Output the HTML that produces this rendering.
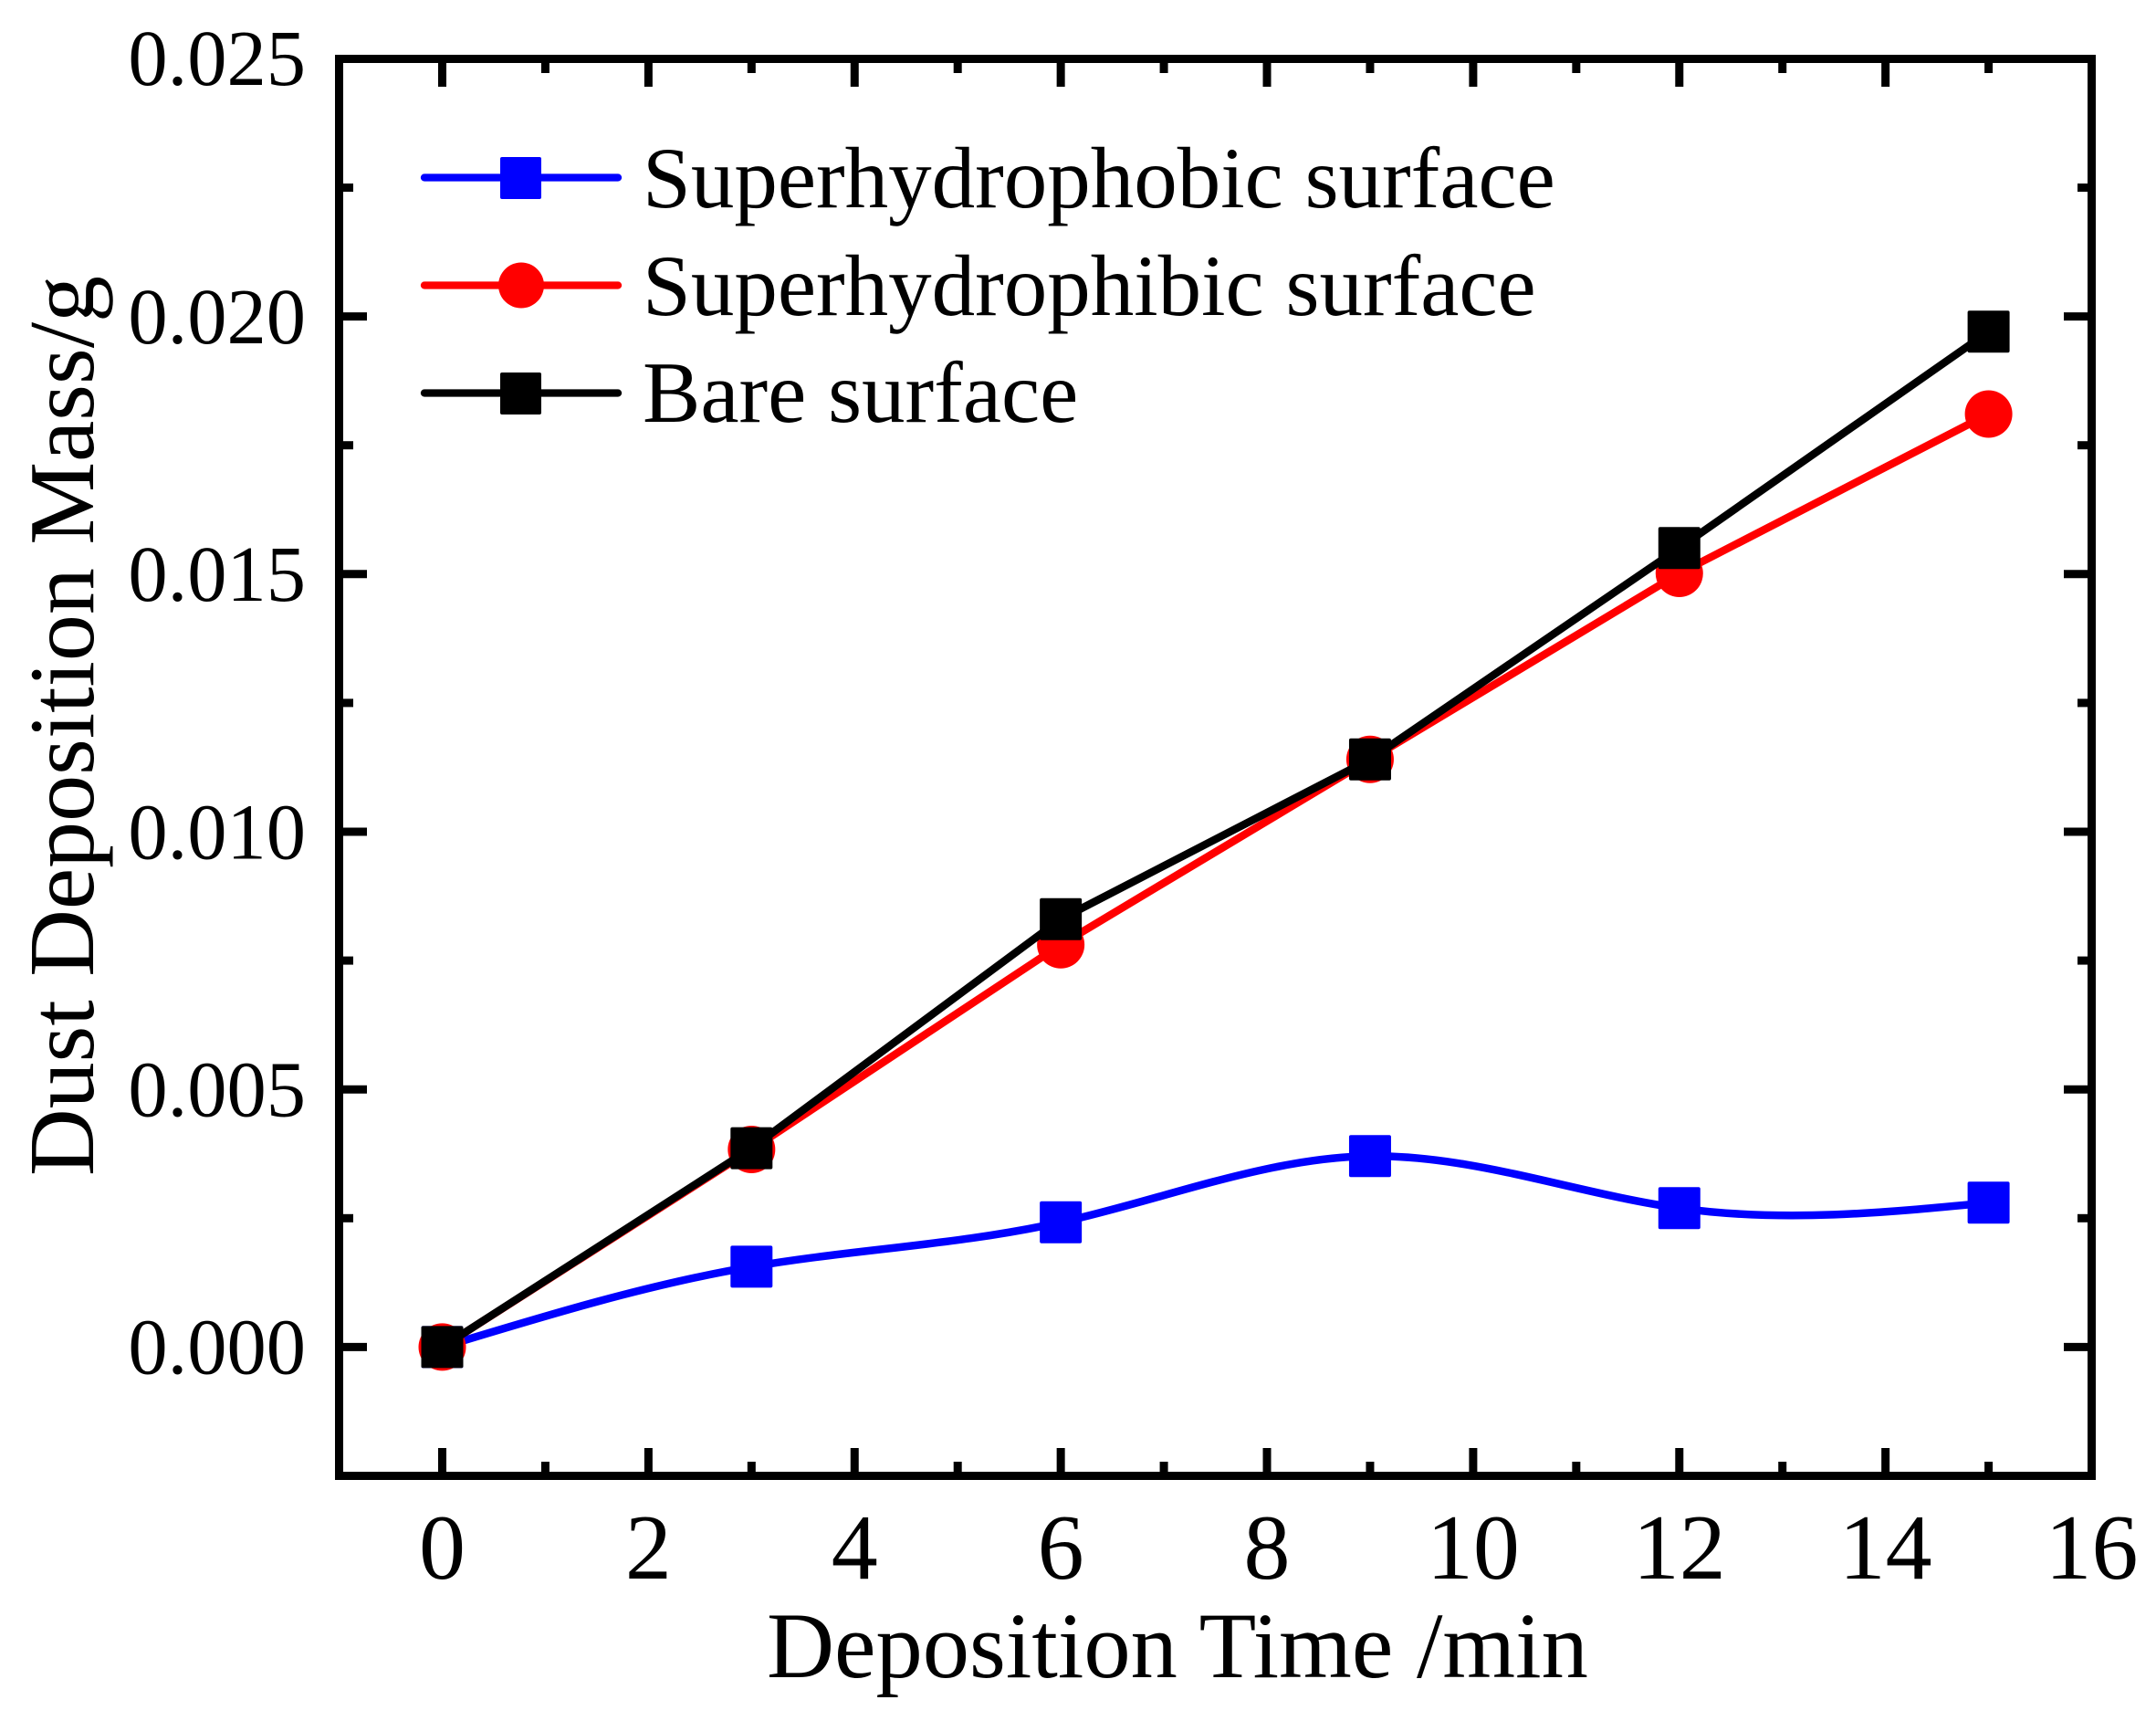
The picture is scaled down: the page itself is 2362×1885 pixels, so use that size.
<!DOCTYPE html>
<html>
<head>
<meta charset="utf-8">
<style>
  html, body { margin: 0; padding: 0; background: #ffffff; }
  svg { display: block; }
  text { font-family: "Liberation Serif", "Times New Roman", serif; fill: #000; }
</style>
</head>
<body>
<svg width="2362" height="1885" viewBox="0 0 2362 1885" xmlns="http://www.w3.org/2000/svg">
  <rect x="0" y="0" width="2362" height="1885" fill="#ffffff"/>
  <g stroke="#000" stroke-width="9" stroke-linecap="butt">
    <line x1="484.5" y1="1616" x2="484.5" y2="1586"/>
    <line x1="710.38" y1="1616" x2="710.38" y2="1586"/>
    <line x1="936.26" y1="1616" x2="936.26" y2="1586"/>
    <line x1="1162.14" y1="1616" x2="1162.14" y2="1586"/>
    <line x1="1388.02" y1="1616" x2="1388.02" y2="1586"/>
    <line x1="1613.9" y1="1616" x2="1613.9" y2="1586"/>
    <line x1="1839.78" y1="1616" x2="1839.78" y2="1586"/>
    <line x1="2065.66" y1="1616" x2="2065.66" y2="1586"/>
    <line x1="597.44" y1="1616" x2="597.44" y2="1601"/>
    <line x1="823.32" y1="1616" x2="823.32" y2="1601"/>
    <line x1="1049.2" y1="1616" x2="1049.2" y2="1601"/>
    <line x1="1275.08" y1="1616" x2="1275.08" y2="1601"/>
    <line x1="1500.96" y1="1616" x2="1500.96" y2="1601"/>
    <line x1="1726.84" y1="1616" x2="1726.84" y2="1601"/>
    <line x1="1952.72" y1="1616" x2="1952.72" y2="1601"/>
    <line x1="2178.6" y1="1616" x2="2178.6" y2="1601"/>
    <line x1="484.5" y1="65" x2="484.5" y2="95"/>
    <line x1="710.38" y1="65" x2="710.38" y2="95"/>
    <line x1="936.26" y1="65" x2="936.26" y2="95"/>
    <line x1="1162.14" y1="65" x2="1162.14" y2="95"/>
    <line x1="1388.02" y1="65" x2="1388.02" y2="95"/>
    <line x1="1613.9" y1="65" x2="1613.9" y2="95"/>
    <line x1="1839.78" y1="65" x2="1839.78" y2="95"/>
    <line x1="2065.66" y1="65" x2="2065.66" y2="95"/>
    <line x1="597.44" y1="65" x2="597.44" y2="80"/>
    <line x1="823.32" y1="65" x2="823.32" y2="80"/>
    <line x1="1049.2" y1="65" x2="1049.2" y2="80"/>
    <line x1="1275.08" y1="65" x2="1275.08" y2="80"/>
    <line x1="1500.96" y1="65" x2="1500.96" y2="80"/>
    <line x1="1726.84" y1="65" x2="1726.84" y2="80"/>
    <line x1="1952.72" y1="65" x2="1952.72" y2="80"/>
    <line x1="2178.6" y1="65" x2="2178.6" y2="80"/>
    <line x1="372" y1="1475.4" x2="402" y2="1475.4"/>
    <line x1="372" y1="1193.2" x2="402" y2="1193.2"/>
    <line x1="372" y1="911.0" x2="402" y2="911.0"/>
    <line x1="372" y1="628.8" x2="402" y2="628.8"/>
    <line x1="372" y1="346.6" x2="402" y2="346.6"/>
    <line x1="372" y1="1334.3" x2="387" y2="1334.3"/>
    <line x1="372" y1="1052.1" x2="387" y2="1052.1"/>
    <line x1="372" y1="769.9" x2="387" y2="769.9"/>
    <line x1="372" y1="487.7" x2="387" y2="487.7"/>
    <line x1="372" y1="205.5" x2="387" y2="205.5"/>
    <line x1="2291" y1="1475.4" x2="2261" y2="1475.4"/>
    <line x1="2291" y1="1193.2" x2="2261" y2="1193.2"/>
    <line x1="2291" y1="911.0" x2="2261" y2="911.0"/>
    <line x1="2291" y1="628.8" x2="2261" y2="628.8"/>
    <line x1="2291" y1="346.6" x2="2261" y2="346.6"/>
    <line x1="2291" y1="1334.3" x2="2276" y2="1334.3"/>
    <line x1="2291" y1="1052.1" x2="2276" y2="1052.1"/>
    <line x1="2291" y1="769.9" x2="2276" y2="769.9"/>
    <line x1="2291" y1="487.7" x2="2276" y2="487.7"/>
    <line x1="2291" y1="205.5" x2="2276" y2="205.5"/>
  </g>
  <rect x="371.5" y="64.5" width="1920" height="1552" fill="none" stroke="#000" stroke-width="9"/>
  <path d="M484.5,1475.4 C597.44,1441.05 710.38,1406.70 823.32,1387.4 C936.26,1368.10 1049.20,1363.85 1162.14,1338.8 C1275.08,1313.74 1388.02,1267.88 1500.96,1266.3 C1613.90,1264.72 1726.84,1307.42 1839.78,1323.3 C1952.72,1339.18 2065.66,1328.24 2178.6,1317.3" fill="none" stroke="#0000ff" stroke-width="8.5" stroke-linejoin="round"/>
  <g fill="#0000ff">
    <rect x="461.5" y="1452.4" width="46" height="46" rx="2"/>
    <rect x="800.32" y="1364.4" width="46" height="46" rx="2"/>
    <rect x="1139.14" y="1315.8" width="46" height="46" rx="2"/>
    <rect x="1477.96" y="1243.3" width="46" height="46" rx="2"/>
    <rect x="1816.78" y="1300.3" width="46" height="46" rx="2"/>
    <rect x="2155.6" y="1294.3" width="46" height="46" rx="2"/>
  </g>
  <polyline points="484.5,1475.4 823.32,1259 1162.14,1034.7 1500.96,831.7 1839.78,628 2178.6,453.5" fill="none" stroke="#ff0000" stroke-width="8.5" stroke-linejoin="round"/>
  <g fill="#ff0000">
    <circle cx="484.5" cy="1475.4" r="26"/>
    <circle cx="823.32" cy="1259" r="26"/>
    <circle cx="1162.14" cy="1034.7" r="26"/>
    <circle cx="1500.96" cy="831.7" r="26"/>
    <circle cx="1839.78" cy="628" r="26"/>
    <circle cx="2178.6" cy="453.5" r="26"/>
  </g>
  <polyline points="484.5,1475.4 823.32,1257.6 1162.14,1006.7 1500.96,831.8 1839.78,600.2 2178.6,363.3" fill="none" stroke="#000000" stroke-width="8.5" stroke-linejoin="round"/>
  <g fill="#000000">
    <rect x="461.5" y="1452.4" width="46" height="46" rx="2"/>
    <rect x="800.32" y="1234.6" width="46" height="46" rx="2"/>
    <rect x="1139.14" y="983.7" width="46" height="46" rx="2"/>
    <rect x="1477.96" y="808.8" width="46" height="46" rx="2"/>
    <rect x="1816.78" y="577.2" width="46" height="46" rx="2"/>
    <rect x="2155.6" y="340.3" width="46" height="46" rx="2"/>
  </g>
  <line x1="465" y1="194.5" x2="677" y2="194.5" stroke="#0000ff" stroke-width="8.3" stroke-linecap="round"/>
  <rect x="548" y="172" width="45" height="46" rx="2" fill="#0000ff"/>
  <text x="704" y="227" font-size="95">Superhydrophobic surface</text>
  <line x1="465" y1="312.5" x2="677" y2="312.5" stroke="#ff0000" stroke-width="8.3" stroke-linecap="round"/>
  <circle cx="571" cy="312.5" r="25" fill="#ff0000"/>
  <text x="704" y="345" font-size="95">Superhydrophibic surface</text>
  <line x1="465" y1="430.5" x2="677" y2="430.5" stroke="#000000" stroke-width="8.3" stroke-linecap="round"/>
  <rect x="548" y="408" width="45" height="46" rx="2" fill="#000000"/>
  <text x="704" y="462" font-size="95">Bare surface</text>
  <g font-size="86.5" text-anchor="end">
    <text x="335" y="1504.5">0.000</text>
    <text x="335" y="1222.5">0.005</text>
    <text x="335" y="940.5">0.010</text>
    <text x="335" y="658">0.015</text>
    <text x="335" y="376">0.020</text>
    <text x="335" y="93">0.025</text>
  </g>
  <g font-size="102" text-anchor="middle">
    <text x="484.5" y="1729">0</text>
    <text x="710.38" y="1729">2</text>
    <text x="936.26" y="1729">4</text>
    <text x="1162.14" y="1729">6</text>
    <text x="1388.02" y="1729">8</text>
    <text x="1613.9" y="1729">10</text>
    <text x="1839.78" y="1729">12</text>
    <text x="2065.66" y="1729">14</text>
    <text x="2291.54" y="1729">16</text>
  </g>
  <text x="840" y="1837" font-size="102.5">Deposition Time /min</text>
  <text transform="translate(102,1288) rotate(-90)" x="0" y="0" font-size="102">Dust Deposition Mass/g</text>
</svg>
</body>
</html>
